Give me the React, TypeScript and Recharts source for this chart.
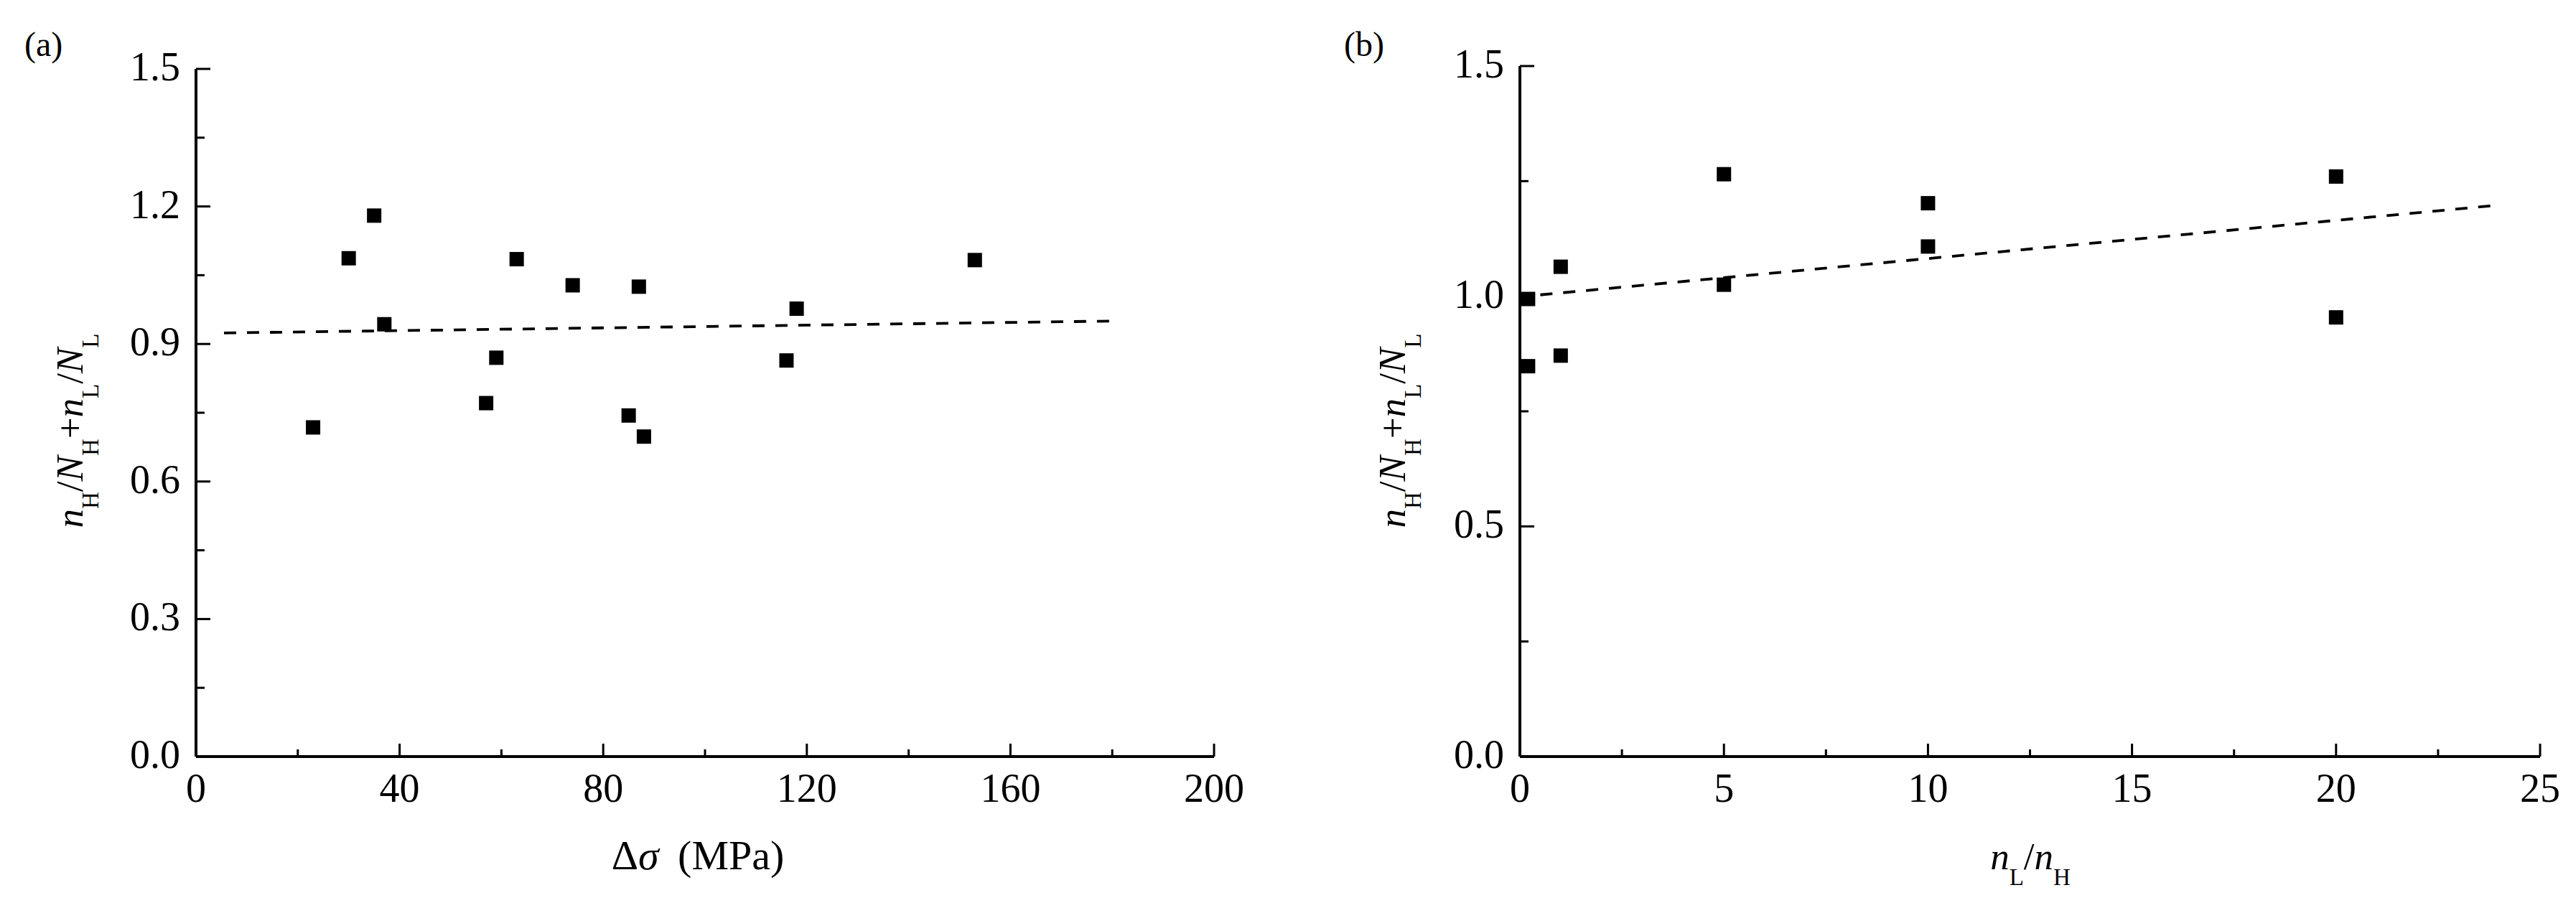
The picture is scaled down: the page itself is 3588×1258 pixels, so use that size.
import { ScatterChart, Scatter, XAxis, YAxis, Label } from 'recharts';

const FONT = '"Liberation Serif", "Times New Roman", serif';
const INK = '#000';

// (a) cumulative damage sum against stress range
const DS_A = [23, 30, 35, 37, 57, 59, 63, 74, 85, 87, 88, 116, 118, 153];
const SUM_A = [0.718, 1.087, 1.18, 0.943, 0.771, 0.87, 1.085, 1.028, 0.744, 1.025, 0.698, 0.864, 0.977, 1.083];
const FIT_A_X = [5.5, 180];
const FIT_A_Y = [0.924, 0.95];

// (b) cumulative damage sum against cycle ratio
const RATIO_B = [0.2, 0.2, 1, 1, 5, 5, 10, 10, 20, 20];
const SUM_B = [0.994, 0.848, 1.064, 0.871, 1.265, 1.025, 1.202, 1.108, 1.26, 0.954];
const FIT_B_X = [0.5, 24];
const FIT_B_Y = [1.003, 1.198];

// ticks (minor + major) and which ones carry a label
const X_TICKS_A = [0, 20, 40, 60, 80, 100, 120, 140, 160, 180, 200];
const X_LABELS_A = [0, 40, 80, 120, 160, 200];
const Y_TICKS_A = [0, 0.15, 0.3, 0.45, 0.6, 0.75, 0.9, 1.05, 1.2, 1.35, 1.5];
const Y_LABELS_A = [0, 0.3, 0.6, 0.9, 1.2, 1.5];

const X_TICKS_B = [0, 2.5, 5, 7.5, 10, 12.5, 15, 17.5, 20, 22.5, 25];
const X_LABELS_B = [0, 5, 10, 15, 20, 25];
const Y_TICKS_B = [0, 0.25, 0.5, 0.75, 1, 1.25, 1.5];
const Y_LABELS_B = [0, 0.5, 1, 1.5];

const W = 1794;
const H = 1258;

const pts = (xs: number[], ys: number[]) => xs.map((x, i) => ({ x, y: ys[i] }));
const isIn = (v: number, list: number[]) => list.some(l => Math.abs(l - v) < 1e-9);

function makeXTick(labels: number[]) {
  return (p: any) => {
    const major = isIn(p.payload.value, labels);
    return (
      <g>
        <line x1={p.x} x2={p.x} y1={p.y} y2={p.y - (major ? 18 : 10)} stroke={INK} strokeWidth={3} />
        {major && (
          <text x={p.x} y={p.y + 63} textAnchor="middle" fontSize={56} fontFamily={FONT} fill={INK}>
            {p.payload.value}
          </text>
        )}
      </g>
    );
  };
}

function makeYTick(labels: number[]) {
  return (p: any) => {
    const major = isIn(p.payload.value, labels);
    return (
      <g>
        <line x1={p.x} x2={p.x + (major ? 20 : 12)} y1={p.y} y2={p.y} stroke={INK} strokeWidth={3} />
        {major && (
          <text x={p.x - 22} y={p.y + 16} textAnchor="end" fontSize={56} fontFamily={FONT} fill={INK}>
            {Number(p.payload.value).toFixed(1)}
          </text>
        )}
      </g>
    );
  };
}

const square = (p: any) => <rect x={p.cx - 10} y={p.cy - 10} width={20} height={20} fill={INK} />;
const noDot = () => <g />;

const SUB = 33;
const SUB_DY = 22;

function yTitle(cx: number, cy: number) {
  return (
    <text
      transform={`translate(${cx},${cy}) rotate(-90)`}
      textAnchor="middle"
      fontFamily={FONT}
      fontSize={53}
      fill={INK}
    >
      <tspan fontStyle="italic">n</tspan>
      <tspan fontSize={SUB} dy={SUB_DY}>H</tspan>
      <tspan dy={-SUB_DY}>/</tspan>
      <tspan fontStyle="italic">N</tspan>
      <tspan fontSize={SUB} dy={SUB_DY}>H</tspan>
      <tspan dy={-SUB_DY}>+</tspan>
      <tspan fontStyle="italic">n</tspan>
      <tspan fontSize={SUB} dy={SUB_DY}>L</tspan>
      <tspan dy={-SUB_DY}>/</tspan>
      <tspan fontStyle="italic">N</tspan>
      <tspan fontSize={SUB} dy={SUB_DY}>L</tspan>
    </text>
  );
}

function panelTag(x: number, y: number, tag: string) {
  return (
    <text x={x} y={y} fontFamily={FONT} fontSize={48} fill={INK}>
      {tag}
    </text>
  );
}

const axisLine = { stroke: INK, strokeWidth: 4 };
const fitLine = { stroke: INK, strokeWidth: 3.8, strokeDasharray: '17 15' };

function PanelA() {
  return (
    <ScatterChart width={W} height={H} margin={{ top: 96, right: 103, bottom: 203, left: 272 }}>
      <XAxis
        type="number"
        dataKey="x"
        domain={[0, 200]}
        ticks={X_TICKS_A}
        interval={0}
        height={1}
        tickSize={0}
        tickMargin={0}
        tickLine={false}
        axisLine={axisLine}
        tick={makeXTick(X_LABELS_A)}
      >
        <Label
          content={() => (
            <text x={972} y={1211} textAnchor="middle" fontFamily={FONT} fontSize={58} fill={INK}>
              <tspan>Δ</tspan>
              <tspan fontStyle="italic">σ</tspan>
              <tspan dx={12}> (MPa)</tspan>
            </text>
          )}
        />
      </XAxis>
      <YAxis
        type="number"
        dataKey="y"
        domain={[0, 1.5]}
        ticks={Y_TICKS_A}
        interval={0}
        width={1}
        tickSize={0}
        tickMargin={0}
        tickLine={false}
        axisLine={axisLine}
        tick={makeYTick(Y_LABELS_A)}
      >
        <Label
          content={() => (
            <g>
              {yTitle(115, 600)}
              {panelTag(34, 78, '(a)')}
            </g>
          )}
        />
      </YAxis>
      <Scatter data={pts(FIT_A_X, FIT_A_Y)} shape={noDot} line={fitLine} legendType="none" isAnimationActive={false} />
      <Scatter data={pts(DS_A, SUM_A)} fill={INK} shape={square} isAnimationActive={false} />
    </ScatterChart>
  );
}

function PanelB() {
  return (
    <ScatterChart width={W} height={H} margin={{ top: 92, right: 50, bottom: 203, left: 322 }}>
      <XAxis
        type="number"
        dataKey="x"
        domain={[0, 25]}
        ticks={X_TICKS_B}
        interval={0}
        height={1}
        tickSize={0}
        tickMargin={0}
        tickLine={false}
        axisLine={axisLine}
        tick={makeXTick(X_LABELS_B)}
      >
        <Label
          content={() => (
            <text x={1034} y={1211} textAnchor="middle" fontFamily={FONT} fontSize={53} fill={INK}>
              <tspan fontStyle="italic">n</tspan>
              <tspan fontSize={SUB} dy={SUB_DY}>L</tspan>
              <tspan dy={-SUB_DY}>/</tspan>
              <tspan fontStyle="italic">n</tspan>
              <tspan fontSize={SUB} dy={SUB_DY}>H</tspan>
            </text>
          )}
        />
      </XAxis>
      <YAxis
        type="number"
        dataKey="y"
        domain={[0, 1.5]}
        ticks={Y_TICKS_B}
        interval={0}
        width={1}
        tickSize={0}
        tickMargin={0}
        tickLine={false}
        axisLine={axisLine}
        tick={makeYTick(Y_LABELS_B)}
      >
        <Label
          content={() => (
            <g>
              {yTitle(163, 600)}
              {panelTag(78, 78, '(b)')}
            </g>
          )}
        />
      </YAxis>
      <Scatter data={pts(FIT_B_X, FIT_B_Y)} shape={noDot} line={fitLine} legendType="none" isAnimationActive={false} />
      <Scatter data={pts(RATIO_B, SUM_B)} fill={INK} shape={square} isAnimationActive={false} />
    </ScatterChart>
  );
}

export default function App() {
  return (
    <div style={{ position: 'absolute', left: 0, top: 0, width: 3588, height: 1258, background: '#fff' }}>
      <div style={{ position: 'absolute', left: 0, top: 0 }}>
        <PanelA />
      </div>
      <div style={{ position: 'absolute', left: W, top: 0 }}>
        <PanelB />
      </div>
    </div>
  );
}
